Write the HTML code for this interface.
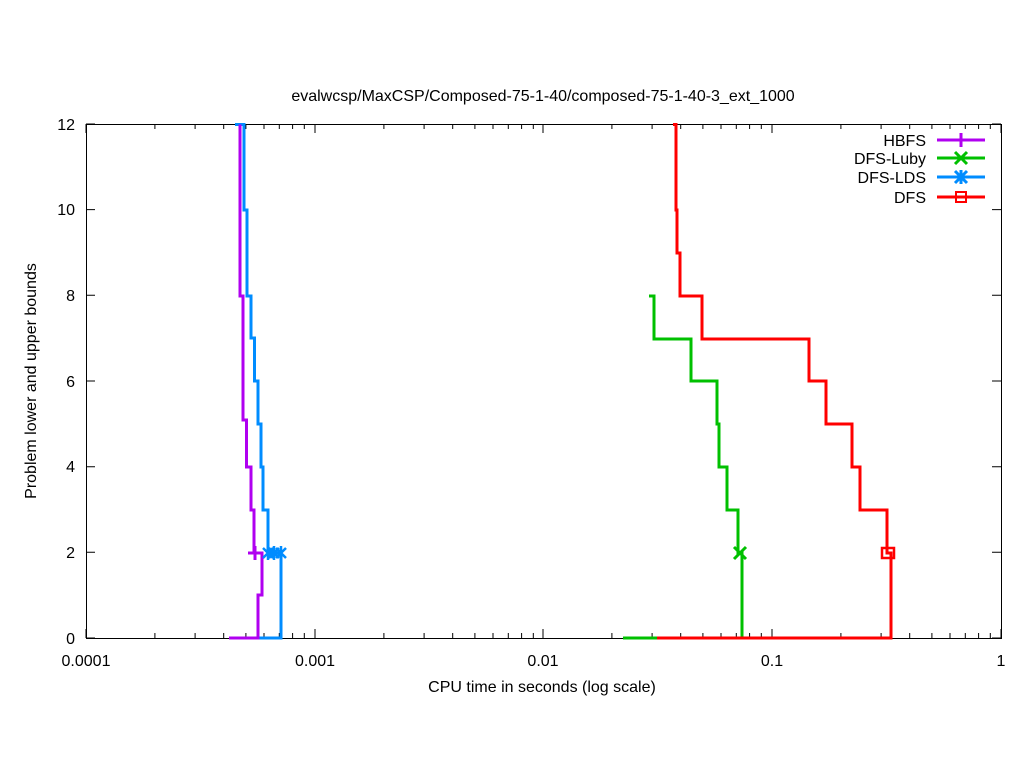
<!DOCTYPE html>
<html><head><meta charset="utf-8"><style>
html,body{margin:0;padding:0;background:#fff;}
svg{display:block;font-family:"Liberation Sans",sans-serif;}
</style></head><body>
<svg width="1024" height="768" viewBox="0 0 1024 768">
<rect width="1024" height="768" fill="#fff"/>
<g stroke="#000" stroke-width="1" fill="none">
<rect x="86.5" y="124.5" width="915" height="514"/>
</g>
<g id="ticks" stroke="#000" stroke-width="1"></g>
<g font-size="16" fill="#000">
<text x="543" y="101" text-anchor="middle">evalwcsp/MaxCSP/Composed-75-1-40/composed-75-1-40-3_ext_1000</text>
<text x="542" y="692" text-anchor="middle">CPU time in seconds (log scale)</text>
<text transform="translate(36,381) rotate(-90)" text-anchor="middle">Problem lower and upper bounds</text>
<g text-anchor="end">
<text x="75" y="644">0</text><text x="75" y="558">2</text><text x="75" y="472">4</text>
<text x="75" y="387">6</text><text x="75" y="301">8</text><text x="75" y="215">10</text><text x="75" y="130">12</text>
</g>
<g text-anchor="middle">
<text x="86" y="666">0.0001</text><text x="315" y="666">0.001</text><text x="543" y="666">0.01</text>
<text x="772" y="666">0.1</text><text x="1001" y="666">1</text>
</g>
<g text-anchor="end">
<text x="926" y="146">HBFS</text><text x="926" y="164">DFS-Luby</text>
<text x="926" y="183">DFS-LDS</text><text x="926" y="203">DFS</text>
</g>
</g>
<g fill="none" stroke-width="3">
<path stroke="#008cff" d="M235,124.5H244V210H247V296H251V338H254.5V381H258V424H261V467H263V510H268V553H281V638H229"/>
<path stroke="#b000f0" d="M240,124.5V296H243V420H246.5V467H251V510H254V553H262V595H258V638H229"/>
<path stroke="#00c000" d="M649,296H654V339H691V381H717V424H719V467H727V510H738V553H742V638H623"/>
<path stroke="#ff0000" d="M673,124.5H676V210H677V253H680V296H702V339H809V381H826V424H852V467H860V510H887V553H891V638H657"/>
<path stroke="#b000f0" d="M937,140H985M961,133V147"/>
<path stroke="#00c000" d="M937,158H985M955,152L967,164M955,164L967,152"/>
<path stroke="#008cff" d="M937,177H985M955,171L967,183M955,183L967,171M961,170V184"/>
<path stroke="#ff0000" d="M937,197H985"/>
<rect x="956" y="192" width="10" height="10" stroke="#ff0000" stroke-width="2"/>
<path stroke="#b000f0" d="M248,553H262M255,546V560"/>
<path stroke="#008cff" stroke-width="2.5" d="M263,548L273,558M263,558L273,548M268,546V560M269,548L279,558M269,558L279,548M274,546V560M276,548L286,558M276,558L286,548M281,546V560"/>
<path stroke="#00c000" d="M734,547L746,559M734,559L746,547"/>
<rect x="882" y="548" width="12" height="10" stroke="#ff0000" stroke-width="2.5"/>
</g>
<script>
var g=document.getElementById('ticks'),d='';
var dec=[86,315,543,772,1001];
for(var i=0;i<5;i++){var x=dec[i];d+='M'+x+',638v-9M'+x+',124v9';
 if(i<4){for(var k=2;k<10;k++){var xx=(x+228.75*Math.log10(k)).toFixed(1);d+='M'+xx+',638v-5M'+xx+',124v5';}}}
for(var j=0;j<=6;j++){var y=(638-j*85.67).toFixed(1);d+='M86,'+y+'h9M1001,'+y+'h-9';}
var p=document.createElementNS('http://www.w3.org/2000/svg','path');p.setAttribute('d',d);g.appendChild(p);
</script>
</svg>
</body></html>
